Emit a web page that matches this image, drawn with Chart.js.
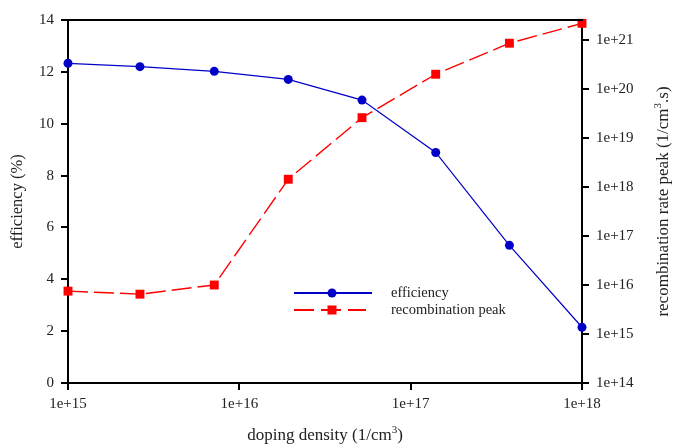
<!DOCTYPE html>
<html>
<head>
<meta charset="utf-8">
<script src="https://cdn.jsdelivr.net/npm/chart.js@4"></script>
<style>
  html, body { margin: 0; padding: 0; background: #fff; }
  #wrap { width: 686px; height: 446px; }
</style>
</head>
<body>
<div id="wrap"><canvas id="exampleChart" width="686" height="446"></canvas></div>
<script>
// doping density (1/cm3)
const doping = [1e15, 2.63e15, 7.14e15, 1.93e16, 5.2e16, 1.4e17, 3.77e17, 1e18];
// efficiency (%)
const efficiency = [12.33, 12.2, 12.02, 11.71, 10.91, 8.89, 5.31, 2.15];
// recombination rate peak (1/cm3.s)
const recombPeak = [7.5e15, 6.5e15, 1.0e16, 1.44e18, 2.6e19, 2.0e20, 8.6e20, 2.19e21];

const xTicks = [1e15, 1e16, 1e17, 1e18];
const rightTicks = [1e14, 1e15, 1e16, 1e17, 1e18, 1e19, 1e20, 1e21];

const serif = "'Liberation Serif', 'DejaVu Serif', serif";
const textColor = '#222';
const expLabel = v => '1e+' + Math.round(Math.log10(v));

// text with a superscript "3", centred on x
function supText(ctx, before, sup, after, x, y, size) {
  ctx.font = size + 'px ' + serif;
  const w1 = ctx.measureText(before).width, w3 = ctx.measureText(after).width;
  ctx.font = Math.round(size * 0.62) + 'px ' + serif;
  const w2 = ctx.measureText(sup).width;
  let sx = x - (w1 + w2 + w3) / 2;
  ctx.textAlign = 'left';
  ctx.textBaseline = 'middle';
  ctx.font = size + 'px ' + serif;
  ctx.fillText(before, sx, y);
  ctx.font = Math.round(size * 0.62) + 'px ' + serif;
  ctx.fillText(sup, sx + w1, y - size * 0.35);
  ctx.font = size + 'px ' + serif;
  ctx.fillText(after, sx + w1 + w2, y);
}

// frame top line, axis titles with superscripts, legend inside the plot
const framePlugin = {
  id: 'frame',
  afterDraw(chart) {
    const ctx = chart.ctx, a = chart.chartArea;
    ctx.save();
    ctx.strokeStyle = '#000';
    ctx.lineWidth = 2;
    ctx.beginPath();
    ctx.moveTo(a.left - 1, a.top);
    ctx.lineTo(a.right + 1, a.top);
    ctx.stroke();

    ctx.fillStyle = textColor;
    supText(ctx, 'doping density (1/cm', '3', ')', (a.left + a.right) / 2, 436, 17);
    ctx.save();
    ctx.translate(664, (a.top + a.bottom) / 2);
    ctx.rotate(-Math.PI / 2);
    supText(ctx, 'recombination rate peak (1/cm', '3', '.s)', 0, 0, 17);
    ctx.restore();

    // legend
    const lx0 = a.left + 226, lx1 = a.left + 304, mx = a.left + 264, tx = a.left + 323;
    const y1 = a.top + 273, y2 = a.top + 290;
    ctx.lineWidth = 2;
    ctx.strokeStyle = '#0000c8';
    ctx.beginPath(); ctx.moveTo(lx0, y1); ctx.lineTo(lx1, y1); ctx.stroke();
    ctx.fillStyle = '#0000c8';
    ctx.beginPath(); ctx.arc(mx, y1, 4.5, 0, Math.PI * 2); ctx.fill();

    ctx.strokeStyle = '#ff0000';
    ctx.setLineDash([20, 7]);
    ctx.beginPath(); ctx.moveTo(lx0, y2); ctx.lineTo(lx1 - 6, y2); ctx.stroke();
    ctx.setLineDash([]);
    ctx.fillStyle = '#ff0000';
    ctx.fillRect(mx - 4.5, y2 - 4.5, 9, 9);

    ctx.fillStyle = textColor;
    ctx.font = '14.5px ' + serif;
    ctx.textBaseline = 'middle';
    ctx.textAlign = 'left';
    ctx.fillText('efficiency', tx, y1);
    ctx.fillText('recombination peak', tx, y2);
    ctx.restore();
  }
};

const config = {
  type: 'line',
  data: {
    datasets: [{
      label: 'efficiency',
      data: doping.map((x, i) => ({ x: x, y: efficiency[i] })),
      yAxisID: 'y',
      borderColor: '#0000c8',
      backgroundColor: '#0000c8',
      borderWidth: 1.2,
      pointStyle: 'circle',
      pointRadius: 4.5,
      pointBorderWidth: 0,
      clip: false,
      tension: 0
    }, {
      label: 'recombination peak',
      data: doping.map((x, i) => ({ x: x, y: recombPeak[i] })),
      yAxisID: 'y2',
      borderColor: '#ff0000',
      backgroundColor: '#ff0000',
      borderWidth: 1.4,
      borderDash: [20, 6],
      pointStyle: 'rect',
      pointRadius: 6.3,
      pointBorderWidth: 0,
      clip: false,
      tension: 0
    }]
  },
  options: {
    responsive: false,
    animation: false,
    layout: { padding: { top: 20, left: 0, right: 0, bottom: 0 } },
    plugins: { legend: { display: false }, tooltip: { enabled: false } },
    scales: {
      x: {
        type: 'logarithmic',
        min: 1e15, max: 1e18,
        afterBuildTicks: s => { s.ticks = xTicks.map(v => ({ value: v })); },
        afterFit: s => { s.height = 63; },
        ticks: { callback: v => expLabel(v), color: textColor, font: { family: serif, size: 15 }, padding: 5, maxRotation: 0, autoSkip: false },
        grid: { drawOnChartArea: false, drawTicks: true, tickLength: 7, color: '#000', lineWidth: 2 },
        border: { display: true, color: '#000', width: 2 }
      },
      y: {
        type: 'linear',
        position: 'left',
        min: 0, max: 14,
        afterFit: s => { s.width = 68; },
        ticks: { stepSize: 2, color: textColor, font: { family: serif, size: 15 }, padding: 7 },
        grid: { drawOnChartArea: false, drawTicks: true, tickLength: 7, color: '#000', lineWidth: 2 },
        border: { display: true, color: '#000', width: 2 },
        title: { display: true, text: 'efficiency (%)', color: textColor, font: { family: serif, size: 16.5 }, padding: { top: 8, bottom: 0 } }
      },
      y2: {
        type: 'logarithmic',
        position: 'right',
        min: 1e14, max: 2.56e21,
        afterBuildTicks: s => { s.ticks = rightTicks.map(v => ({ value: v })); },
        afterFit: s => { s.width = 104; },
        ticks: { callback: v => expLabel(v), color: textColor, font: { family: serif, size: 15 }, padding: 7, autoSkip: false },
        grid: { drawOnChartArea: false, drawTicks: true, tickLength: 7, color: '#000', lineWidth: 2 },
        border: { display: true, color: '#000', width: 2 }
      }
    }
  },
  plugins: [framePlugin]
};

const ctx = document.getElementById('exampleChart').getContext('2d');
const myChart = new Chart(ctx, config);
</script>
</body>
</html>
